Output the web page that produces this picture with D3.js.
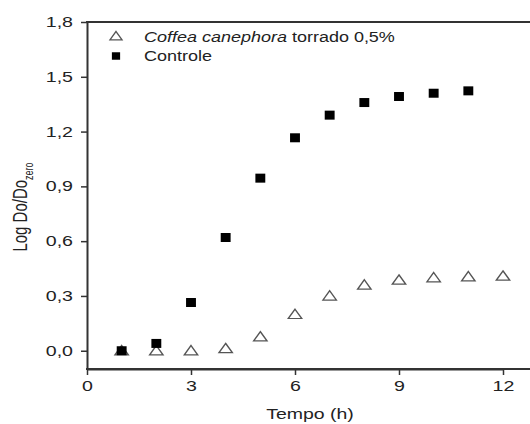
<!DOCTYPE html>
<html>
<head>
<meta charset="utf-8">
<script src="https://cdn.jsdelivr.net/npm/d3@7"></script>
<style>
    body { margin: 0; background: #fff; }
    text { font-family: "Liberation Sans", Arial, sans-serif; fill: #222; }
</style>
</head>
<body>
<div id="plot"></div>
<script>
// data
const tempo = [1, 2, 3, 4, 5, 6, 7, 8, 9, 10, 11, 12];
const coffea = [0.0, 0.0, 0.0, 0.012, 0.076, 0.199, 0.30, 0.36, 0.387, 0.40, 0.405, 0.409];
const controleTempo = [1, 2, 3, 4, 5, 6, 7, 8, 9, 10, 11];
const controle = [0.0, 0.04, 0.264, 0.62, 0.945, 1.166, 1.29, 1.359, 1.392, 1.41, 1.423];
const xTicks = [0, 3, 6, 9, 12];
const yTicks = [0, 0.3, 0.6, 0.9, 1.2, 1.5, 1.8];

const width = 530, height = 424;
const axisColor = "#333";
const stretch = 1.4; // the original figure is stretched sideways

const svg = d3.select("#plot").append("svg")
    .attr("width", width)
    .attr("height", height);

const x = d3.scaleLinear().domain([0, 12]).range([87, 503]);
const y = d3.scaleLinear().domain([-0.1, 1.8]).range([369, 22]);

const fmt = d => d3.format(".1f")(d).replace(".", ",");

const xAxis = svg.append("g")
    .attr("transform", `translate(0,${y(-0.1)})`)
    .call(d3.axisBottom(x).tickValues(xTicks).tickSize(6).tickSizeOuter(0).tickPadding(6));

const yAxis = svg.append("g")
    .attr("transform", `translate(${x(0)},0)`)
    .call(d3.axisLeft(y).tickValues(yTicks).tickFormat(fmt).tickSize(6).tickSizeOuter(0));

[xAxis, yAxis].forEach(a => {
    a.select(".domain").attr("stroke", axisColor).attr("stroke-width", 2);
    a.selectAll(".tick line").attr("stroke", axisColor).attr("stroke-width", 1.5);
    a.selectAll(".tick text")
        .attr("fill", "#222")
        .style("font-family", "'Liberation Sans', Arial, sans-serif")
        .style("font-size", "14px");
});
xAxis.selectAll(".tick text").attr("transform", `scale(${stretch},1)`);
yAxis.selectAll(".tick text")
    .attr("x", 0)
    .attr("transform", `translate(-14,0) scale(${stretch},1)`);

// frame lines (top and bottom run off the right edge)
svg.append("line")
    .attr("x1", x(0) - 1).attr("x2", width)
    .attr("y1", y(1.8)).attr("y2", y(1.8))
    .attr("stroke", axisColor).attr("stroke-width", 2);
svg.append("line")
    .attr("x1", x(0) - 1).attr("x2", width)
    .attr("y1", y(-0.1)).attr("y2", y(-0.1))
    .attr("stroke", axisColor).attr("stroke-width", 2);

// axis titles
svg.append("text")
    .attr("transform", `translate(310,419) scale(1.3,1)`)
    .attr("text-anchor", "middle")
    .style("font-size", "15px")
    .text("Tempo (h)");

const yLabel = svg.append("text")
    .attr("transform", `translate(27,207) scale(${stretch},1) rotate(-90)`)
    .attr("text-anchor", "middle")
    .style("font-size", "15px");
yLabel.append("tspan").text("Log Do/Do");
yLabel.append("tspan").attr("dy", 4).style("font-size", "9px").text("zero");

const triangle = d3.symbol().type(d3.symbolTriangle).size(50);
const square = d3.symbol().type(d3.symbolSquare).size(81);

// Coffea canephora series
svg.append("g")
    .selectAll("path")
    .data(tempo.map((t, i) => [t, coffea[i]]))
    .join("path")
    .attr("d", triangle)
    .attr("transform", d => `translate(${x(d[0])},${y(d[1]) + 1}) scale(1.25,1)`)
    .attr("fill", "none")
    .attr("stroke", "#555")
    .attr("stroke-width", 1.2);

// Controle series
svg.append("g")
    .selectAll("path")
    .data(controleTempo.map((t, i) => [t, controle[i]]))
    .join("path")
    .attr("d", square)
    .attr("transform", d => `translate(${x(d[0])},${y(d[1])}) scale(1.1,1)`)
    .attr("fill", "#000");

// legend
const legend = svg.append("g");
legend.append("path")
    .attr("d", d3.symbol().type(d3.symbolTriangle).size(40))
    .attr("transform", "translate(116,37) scale(1.25,1)")
    .attr("fill", "none").attr("stroke", "#555").attr("stroke-width", 1.2);
const l1 = legend.append("text")
    .attr("transform", "translate(144,42) scale(1.2,1)")
    .style("font-size", "15px");
l1.append("tspan").style("font-style", "italic").text("Coffea canephora");
l1.append("tspan").text(" torrado 0,5%");

legend.append("path")
    .attr("d", d3.symbol().type(d3.symbolSquare).size(56))
    .attr("transform", "translate(116,56) scale(1.1,1)")
    .attr("fill", "#000");
legend.append("text")
    .attr("transform", "translate(144,61) scale(1.2,1)")
    .style("font-size", "15px")
    .text("Controle");
</script>
</body>
</html>
